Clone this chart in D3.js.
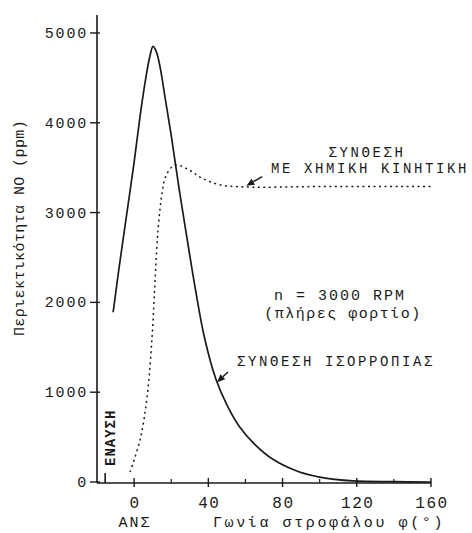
<!DOCTYPE html>
<html><head><meta charset="utf-8">
<script src="https://cdn.jsdelivr.net/npm/d3@7"></script>
<style>
html,body{margin:0;padding:0;background:#fff;}
svg text{font-family:"Liberation Mono","DejaVu Sans Mono",monospace;fill:#1a1a1a;}
</style></head>
<body>
<svg id="c" width="472" height="533"></svg>
<script>
// ---- data ----
const yTicks = [0, 1000, 2000, 3000, 4000, 5000];
const xTicks = [0, 40, 80, 120, 160];
const xMinorTicks = [20, 60, 100, 140];
const ignitionAngle = -15.6;

// Equilibrium NO formation (solid)
const eqAngle = [-11.3, -8, -4, 0, 3, 6, 8.5, 10.2, 12, 14, 17, 20, 24, 28, 33, 38, 44, 50, 57, 65, 75, 88, 100, 118, 140, 160];
const eqNO    = [1890, 2400, 2980, 3560, 4040, 4460, 4740, 4850, 4790, 4620, 4240, 3860, 3300, 2780, 2150, 1600, 1150, 860, 610, 420, 250, 120, 55, 12, 4, 0];

// Chemical-kinetics NO formation (dotted)
const kinAngle = [-2.2, 3.2, 7.0, 9.7, 11.3, 12.9, 15.1, 17, 20.5, 23.2, 30, 36, 46, 60, 100, 160];
const kinNO    = [110, 470, 950, 1620, 2250, 2810, 3220, 3400, 3510, 3530, 3470, 3390, 3310, 3285, 3290, 3290];

// ---- chart ----
const svg = d3.select("#c");
const x = d3.scaleLinear().domain([-20, 160]).range([97, 431]);
const y = d3.scaleLinear().domain([0, 5200]).range([482, 15]);
const ink = "#1a1a1a";
const fs = 15;

// axes
svg.append("line").attr("x1", x(-20)).attr("x2", x(-20)).attr("y1", y(5200)).attr("y2", y(0) + 1)
  .attr("stroke", ink).attr("stroke-width", 1.6);
svg.append("line").attr("x1", x(-20)).attr("x2", x(160)).attr("y1", y(0) + 1).attr("y2", y(0) + 1)
  .attr("stroke", ink).attr("stroke-width", 1.6);

// y ticks
const yg = svg.append("g");
yTicks.forEach(v => {
  yg.append("line").attr("x1", x(-20) - 7).attr("x2", x(-20) + 3).attr("y1", y(v)).attr("y2", y(v))
    .attr("stroke", ink).attr("stroke-width", 1.4);
  yg.append("text").attr("x", x(-20) - 9).attr("y", y(v) + 5).attr("text-anchor", "end")
    .attr("font-size", fs).attr("letter-spacing", 1.8).text(v);
});

// x ticks
const xg = svg.append("g");
xTicks.forEach(v => {
  xg.append("line").attr("x1", x(v)).attr("x2", x(v)).attr("y1", y(0) - 4).attr("y2", y(0) + 5)
    .attr("stroke", ink).attr("stroke-width", 1.4);
  xg.append("text").attr("x", x(v) + 1).attr("y", 508).attr("text-anchor", "middle")
    .attr("font-size", fs + 1).attr("letter-spacing", 1.6).text(v);
});
xMinorTicks.forEach(v => {
  xg.append("line").attr("x1", x(v)).attr("x2", x(v)).attr("y1", y(0) - 3).attr("y2", y(0) + 1)
    .attr("stroke", ink).attr("stroke-width", 1.2);
});

// ignition tick & label
svg.append("line").attr("x1", x(ignitionAngle)).attr("x2", x(ignitionAngle)).attr("y1", y(0) - 9).attr("y2", y(0) + 1)
  .attr("stroke", ink).attr("stroke-width", 1.6);
svg.append("text").attr("transform", `translate(${x(ignitionAngle) + 10},466) rotate(-90)`)
  .attr("font-size", 14).attr("font-weight", "bold").attr("letter-spacing", 1).text("ΕΝΑΥΣΗ");

// axis titles
svg.append("text").attr("transform", "translate(24,228) rotate(-90)").attr("text-anchor", "middle")
  .attr("font-size", 15).attr("letter-spacing", 0.4).text("Περιεκτικότητα ΝΟ (ppm)");
svg.append("text").attr("x", x(0) + 1).attr("y", 527).attr("text-anchor", "middle")
  .attr("font-size", fs).attr("letter-spacing", 2).text("ΑΝΣ");
svg.append("text").attr("x", 213).attr("y", 527)
  .attr("font-size", fs).attr("letter-spacing", 2.6).text("Γωνία στροφάλου φ(°)");

// curves
const line = d3.line().x(d => x(d[0])).y(d => y(d[1])).curve(d3.curveCatmullRom.alpha(0.5));
svg.append("path").datum(eqAngle.map((a, i) => [a, eqNO[i]]))
  .attr("d", line).attr("fill", "none").attr("stroke", ink).attr("stroke-width", 1.7);
svg.append("path").datum(kinAngle.map((a, i) => [a, kinNO[i]]))
  .attr("d", line).attr("fill", "none").attr("stroke", ink).attr("stroke-width", 1.5)
  .attr("stroke-dasharray", "2,3.5");

// arrows
function arrow(a0, v0, a1, v1) {
  const x0 = x(a0), y0 = y(v0), x1 = x(a1), y1 = y(v1);
  const ang = Math.atan2(y1 - y0, x1 - x0);
  const L = 8, W = 3.5;
  const bx = x1 - L * Math.cos(ang), by = y1 - L * Math.sin(ang);
  svg.append("line").attr("x1", x0).attr("y1", y0).attr("x2", bx).attr("y2", by)
    .attr("stroke", ink).attr("stroke-width", 1.5);
  svg.append("path").attr("d",
    `M${x1},${y1}L${bx - W * Math.sin(ang)},${by + W * Math.cos(ang)}L${bx + W * Math.sin(ang)},${by - W * Math.cos(ang)}Z`)
    .attr("fill", ink);
}
arrow(69, 3400, 60.5, 3300);
arrow(50.6, 1225, 44.7, 1110);

// annotations
const afs = 14, als = 2.6;
svg.append("text").attr("x", 367).attr("y", 157).attr("text-anchor", "middle")
  .attr("font-size", afs).attr("letter-spacing", als).text("ΣΥΝΘΕΣΗ");
svg.append("text").attr("x", 370).attr("y", 173).attr("text-anchor", "middle")
  .attr("font-size", afs).attr("letter-spacing", als).text("ΜΕ ΧΗΜΙΚΗ ΚΙΝΗΤΙΚΗ");
svg.append("text").attr("x", 340).attr("y", 300).attr("text-anchor", "middle")
  .attr("font-size", afs + 1).attr("letter-spacing", 2).text("n = 3000 RPM");
svg.append("text").attr("x", 343).attr("y", 318).attr("text-anchor", "middle")
  .attr("font-size", afs + 1).attr("letter-spacing", 1.5).text("(πλήρες φορτίο)");
svg.append("text").attr("x", 237).attr("y", 366)
  .attr("font-size", afs).attr("letter-spacing", als).text("ΣΥΝΘΕΣΗ ΙΣΟΡΡΟΠΙΑΣ");
</script>
</body></html>
